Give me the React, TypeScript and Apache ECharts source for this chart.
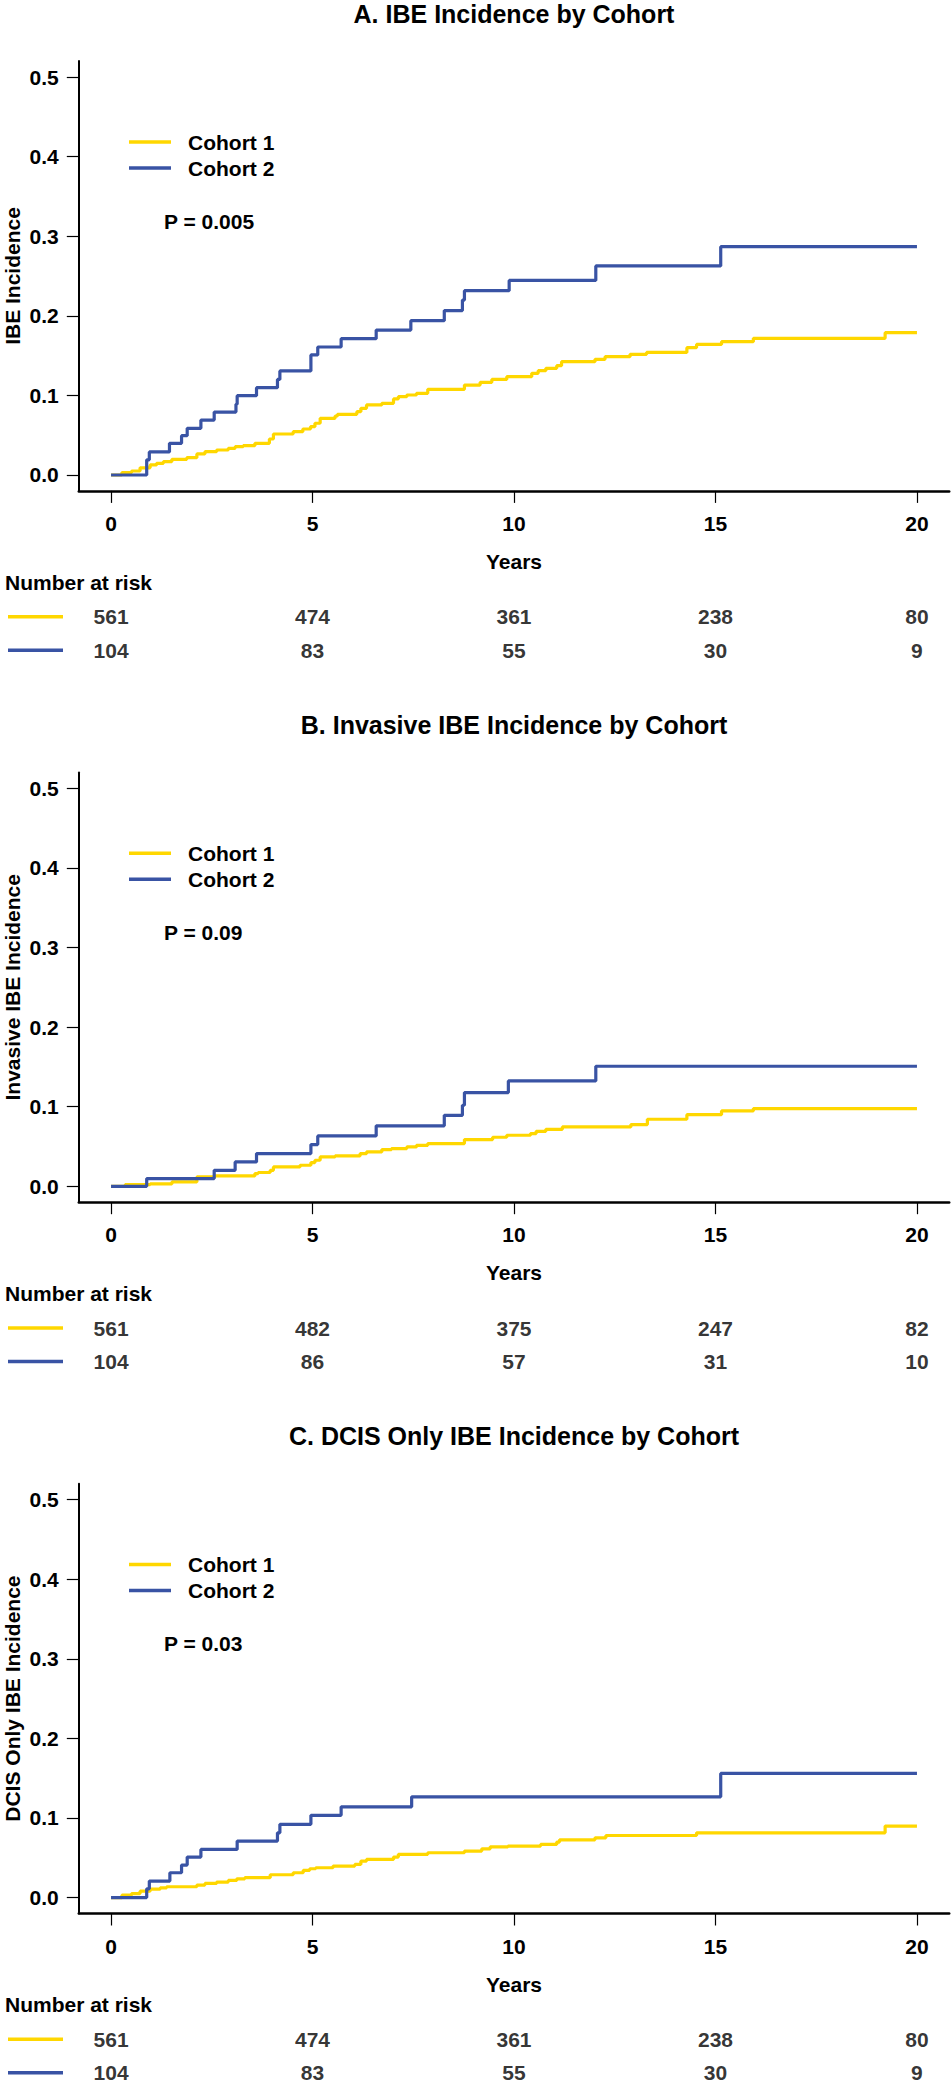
import React, { useEffect, useRef } from "react";
import * as echarts from "echarts";

// ---------- data ----------
const PANEL_TITLES = [
  "A. IBE Incidence by Cohort",
  "B. Invasive IBE Incidence by Cohort",
  "C. DCIS Only IBE Incidence by Cohort",
];
const Y_NAMES = ["IBE Incidence", "Invasive IBE Incidence", "DCIS Only IBE Incidence"];
const P_VALUES = ["P = 0.005", "P = 0.09", "P = 0.03"];
const COHORTS = ["Cohort 1", "Cohort 2"];
const X_TICKS = [0, 5, 10, 15, 20];
const Y_TICKS = [0, 0.1, 0.2, 0.3, 0.4, 0.5];
const RISK_TIMES = [0, 5, 10, 15, 20];

const A_COHORT1 = [
  [0, 0], [0.27, 0.003], [0.51, 0.005], [0.72, 0.009], [0.97, 0.0126], [1.13, 0.0147], [1.3, 0.0168],
  [1.51, 0.0197], [1.88, 0.0218], [2.13, 0.0264], [2.33, 0.0293], [2.62, 0.0314], [2.91, 0.0335],
  [3.08, 0.0356], [3.28, 0.0368], [3.57, 0.0398], [3.93, 0.0452], [4.03, 0.0515], [4.52, 0.0544],
  [4.76, 0.0578], [4.95, 0.0607], [5.06, 0.065], [5.19, 0.0712], [5.56, 0.0741], [5.62, 0.0762],
  [6.1, 0.0795], [6.2, 0.0838], [6.34, 0.088], [6.72, 0.09], [7.01, 0.0955], [7.13, 0.0984],
  [7.34, 0.1005], [7.58, 0.1026], [7.86, 0.1076], [8.77, 0.113], [9.16, 0.1164], [9.45, 0.12],
  [9.82, 0.1235], [10.44, 0.1277], [10.6, 0.131], [10.79, 0.134], [11.06, 0.1373], [11.18, 0.1424],
  [12.01, 0.1453], [12.26, 0.1486], [12.88, 0.1516], [13.29, 0.154], [14.29, 0.16], [14.53, 0.164],
  [15.15, 0.1675], [15.94, 0.1717], [19.21, 0.1788], [20.0, 0.1788],
];
const A_COHORT2 = [
  [0, 0], [0.885, 0.019], [0.95, 0.029], [1.45, 0.0398], [1.75, 0.0494], [1.89, 0.0586], [2.23, 0.069],
  [2.56, 0.079], [3.1, 0.089], [3.13, 0.0996], [3.61, 0.1097], [4.13, 0.12], [4.19, 0.1307],
  [4.96, 0.1508], [5.13, 0.1608], [5.71, 0.1713], [6.58, 0.182], [7.44, 0.1939], [8.27, 0.2065],
  [8.72, 0.2198], [8.77, 0.2316], [9.88, 0.2445], [12.03, 0.2626], [15.13, 0.2868], [20.0, 0.2868],
];
const B_COHORT1 = [
  [0, 0], [0.35, 0.002], [0.97, 0.003], [1.51, 0.0055], [2.13, 0.0118], [2.58, 0.013], [3.57, 0.016],
  [3.65, 0.0173], [3.95, 0.0201], [4.03, 0.0243], [4.69, 0.0264], [4.96, 0.0298], [5.06, 0.0327],
  [5.19, 0.0369], [5.56, 0.0382], [6.18, 0.041], [6.34, 0.0432], [6.72, 0.0461], [6.96, 0.0474],
  [7.34, 0.0495], [7.58, 0.0515], [7.86, 0.0536], [8.77, 0.0587], [9.47, 0.0616], [9.82, 0.0641],
  [10.41, 0.0662], [10.55, 0.069], [10.79, 0.0716], [11.2, 0.0746], [12.9, 0.0775], [13.31, 0.0842],
  [14.29, 0.09], [15.15, 0.0947], [15.94, 0.0976], [20.0, 0.0976],
];
const B_COHORT2 = [
  [0, 0], [0.885, 0.0097], [2.56, 0.0201], [3.08, 0.0306], [3.61, 0.0411], [4.96, 0.0524],
  [5.13, 0.0633], [6.58, 0.0759], [8.27, 0.0892], [8.72, 0.1018], [8.77, 0.1177], [9.86, 0.1324],
  [12.03, 0.1508], [20.0, 0.1508],
];
const C_COHORT1 = [
  [0, 0], [0.27, 0.003], [0.51, 0.005], [0.72, 0.008], [0.97, 0.0105], [1.22, 0.0123], [1.38, 0.0136],
  [2.13, 0.0157], [2.33, 0.0178], [2.62, 0.0195], [2.91, 0.0216], [3.12, 0.0236], [3.32, 0.025],
  [3.95, 0.0287], [4.52, 0.0312], [4.77, 0.0342], [4.93, 0.0362], [5.08, 0.0375], [5.51, 0.0396],
  [6.05, 0.0417], [6.2, 0.0459], [6.34, 0.048], [7.01, 0.0509], [7.13, 0.0543], [7.86, 0.0563],
  [8.77, 0.0584], [9.2, 0.0613], [9.41, 0.0638], [9.85, 0.0647], [10.66, 0.0668], [11.06, 0.0697],
  [11.13, 0.0726], [12.01, 0.0751], [12.28, 0.078], [14.53, 0.0814], [19.21, 0.0898], [20.0, 0.0898],
];
const C_COHORT2 = [
  [0, 0], [0.885, 0.011], [0.95, 0.0207], [1.46, 0.0312], [1.75, 0.0408], [1.89, 0.0509], [2.23, 0.0605],
  [3.13, 0.071], [4.13, 0.0814], [4.19, 0.092], [4.96, 0.1033], [5.71, 0.114], [7.46, 0.1266],
  [15.13, 0.156], [20.0, 0.156],
];

const A_RISK1 = [561, 474, 361, 238, 80];
const A_RISK2 = [104, 83, 55, 30, 9];
const B_RISK1 = [561, 482, 375, 247, 82];
const B_RISK2 = [104, 86, 57, 31, 10];
const C_RISK1 = [561, 474, 361, 238, 80];
const C_RISK2 = [104, 83, 55, 30, 9];

const CURVES = [
  [A_COHORT1, A_COHORT2],
  [B_COHORT1, B_COHORT2],
  [C_COHORT1, C_COHORT2],
];
const RISKS = [
  [A_RISK1, A_RISK2],
  [B_RISK1, B_RISK2],
  [C_RISK1, C_RISK2],
];

// ---------- style ----------
const COLORS = ["#FFD700", "#3953A4"];
const FONT = "'Liberation Sans', Arial, Helvetica, sans-serif";
const W = 951;
const H = 2085;
const DY = 711.3;
const GRID_LEFT = 78.8;
const GRID_WIDTH = 870.4;
const GRID_TOP = 61.1;
const GRID_HEIGHT = 429.8;
const RISK_ROW1 = 616.7;
const RISK_STEP = 33.5;

function buildOption() {
  const grids: any[] = [];
  const xAxes: any[] = [];
  const yAxes: any[] = [];
  const series: any[] = [];
  const legends: any[] = [];
  const graphics: any[] = [];

  for (let i = 0; i < 3; i++) {
    const o = i * DY;
    const pg = 2 * i; // plot grid / axis index
    const rg = 2 * i + 1; // risk-table grid / axis index

    grids.push({
      left: GRID_LEFT, top: GRID_TOP + o, width: GRID_WIDTH, height: GRID_HEIGHT,
      containLabel: false, outerBoundsMode: "none",
    });
    xAxes.push({
      type: "value",
      gridIndex: pg,
      min: -0.8,
      max: 20.8,
      name: "Years",
      nameLocation: "middle",
      nameGap: 60,
      nameMoveOverlap: false,
      nameTextStyle: { fontSize: 21, fontWeight: "bold", color: "#000", fontFamily: FONT },
      axisLine: { show: true, onZero: false, lineStyle: { color: "#000", width: 2.5 } },
      axisTick: { show: true, length: 12, lineStyle: { color: "#000", width: 1.2 }, customValues: X_TICKS },
      axisLabel: {
        show: true, margin: 22, fontSize: 21, fontWeight: "bold", color: "#000", fontFamily: FONT,
        customValues: X_TICKS,
      },
      splitLine: { show: false },
    });
    yAxes.push({
      type: "value",
      gridIndex: pg,
      min: -0.02,
      max: 0.52,
      name: Y_NAMES[i],
      nameLocation: "middle",
      nameGap: 56,
      nameMoveOverlap: false,
      nameTextStyle: { fontSize: 21, fontWeight: "bold", color: "#000", fontFamily: FONT },
      axisLine: { show: true, onZero: false, lineStyle: { color: "#000", width: 2 } },
      axisTick: { show: true, length: 12, lineStyle: { color: "#000", width: 1.2 }, customValues: Y_TICKS },
      axisLabel: {
        show: true, margin: 20, fontSize: 21, fontWeight: "bold", color: "#000", fontFamily: FONT,
        customValues: Y_TICKS,
        formatter: (v: number) => v.toFixed(1),
      },
      splitLine: { show: false },
    });

    // risk table grid
    grids.push({
      left: GRID_LEFT, top: RISK_ROW1 - RISK_STEP / 2 + o, width: GRID_WIDTH, height: RISK_STEP * 2,
      containLabel: false, outerBoundsMode: "none",
    });
    xAxes.push({ type: "value", gridIndex: rg, min: -0.8, max: 20.8, show: false });
    yAxes.push({ type: "category", gridIndex: rg, data: COHORTS, inverse: true, show: false });

    for (let c = 0; c < 2; c++) {
      series.push({
        name: COHORTS[c],
        type: "line",
        xAxisIndex: pg,
        yAxisIndex: pg,
        step: "end",
        showSymbol: false,
        symbol: "none",
        data: CURVES[i][c],
        lineStyle: { color: COLORS[c], width: 3.2 },
        itemStyle: { color: COLORS[c] },
        z: 2 + c,
      });
    }
    for (let c = 0; c < 2; c++) {
      const ry = RISK_ROW1 + c * RISK_STEP + o;
      graphics.push({
        type: "line",
        shape: { x1: 8, y1: ry, x2: 63, y2: ry },
        style: { stroke: COLORS[c], lineWidth: 3.5 },
      });
      series.push({
        name: "Number at risk " + COHORTS[c] + " " + PANEL_TITLES[i],
        type: "scatter",
        xAxisIndex: rg,
        yAxisIndex: rg,
        symbolSize: 0.001,
        itemStyle: { color: "transparent" },
        data: RISK_TIMES.map((t, j) => [t, c, RISKS[i][c][j]]),
        label: {
          show: true,
          position: "inside",
          formatter: (p: any) => String(p.value[2]),
          fontSize: 21,
          fontWeight: "bold",
          color: "#000",
          fontFamily: FONT,
        },
        silent: true,
      });
    }

    legends.push({
      data: COHORTS,
      orient: "vertical",
      left: 129,
      top: 129 + o,
      padding: 0,
      itemGap: 0,
      icon: "rect",
      itemWidth: 42,
      itemHeight: 3.5,
      selectedMode: false,
      textStyle: { fontSize: 21, fontWeight: "bold", color: "#000", fontFamily: FONT, lineHeight: 26, padding: [0, 0, 0, 12] },
    });
    graphics.push({
      type: "text",
      x: 514,
      y: 13.5 + o,
      style: { text: PANEL_TITLES[i], fontSize: 25, fontWeight: "bold", fill: "#000", fontFamily: FONT, align: "center", verticalAlign: "middle" },
    });
    graphics.push({
      type: "text",
      x: 164,
      y: 221 + o,
      style: { text: P_VALUES[i], fontSize: 21, fontWeight: "bold", fill: "#000", fontFamily: FONT, align: "left", verticalAlign: "middle" },
    });
    graphics.push({
      type: "text",
      x: 5,
      y: 582 + o,
      style: { text: "Number at risk", fontSize: 21, fontWeight: "bold", fill: "#000", fontFamily: FONT, align: "left", verticalAlign: "middle" },
    });
  }

  return {
    animation: false,
    backgroundColor: "#fff",
    textStyle: { fontFamily: FONT },
    grid: grids,
    xAxis: xAxes,
    yAxis: yAxes,
    legend: legends,
    series,
    graphic: graphics,
  };
}

export default function App() {
  const ref = useRef<HTMLDivElement>(null);
  useEffect(() => {
    document.body.style.margin = "0";
    if (!ref.current) return;
    const chart = echarts.init(ref.current, undefined, { renderer: "svg", width: W, height: H });
    chart.setOption(buildOption() as any);
    return () => chart.dispose();
  }, []);
  return <div ref={ref} style={{ width: W, height: H }} />;
}
